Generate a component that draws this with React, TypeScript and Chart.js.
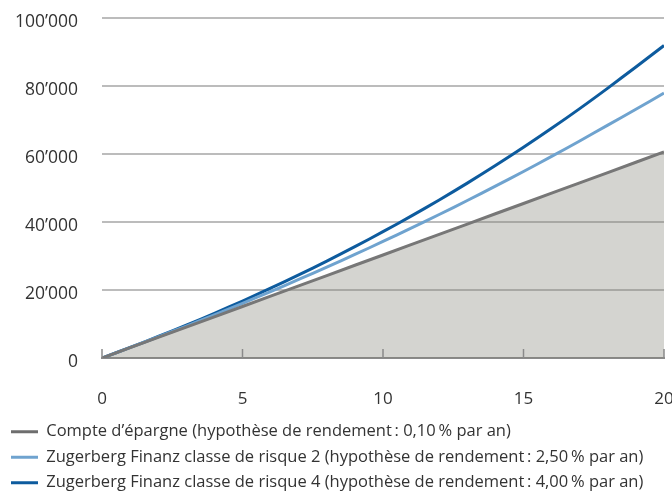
import React, { useEffect, useRef } from "react";
import { Chart, registerables } from "chart.js";

Chart.register(...registerables);

const years = [0, 1, 2, 3, 4, 5, 6, 7, 8, 9, 10, 11, 12, 13, 14, 15, 16, 17, 18, 19, 20];
const savings = [0, 3030, 6060, 9090, 12120, 15150, 18180, 21210, 24240, 27270, 30300, 33330, 36360, 39390, 42420, 45450, 48480, 51510, 54540, 57570, 60600];
const class2 = [0, 3070, 6200, 9400, 12700, 16080, 19540, 23090, 26720, 30450, 34270, 38190, 42200, 46320, 50540, 54860, 59300, 63840, 68500, 73150, 77900];
const class4 = [0, 3100, 6320, 9660, 13140, 16760, 20520, 24430, 28500, 32740, 37150, 41730, 46490, 51440, 56600, 61970, 67550, 73350, 79380, 85600, 91900];
const xTicks = [0, 5, 10, 15, 20];
const seriesLabels = [
  "Compte d\u2019épargne (hypothèse de rendement\u2009: 0,10\u2009% par an)",
  "Zugerberg Finanz classe de risque 2 (hypothèse de rendement\u2009: 2,50\u2009% par an)",
  "Zugerberg Finanz classe de risque 4 (hypothèse de rendement\u2009: 4,00\u2009% par an)",
];

const FONT = "'Open Sans', sans-serif";

const fmt = (v: number) => {
  if (v === 0) return "0";
  const s = String(Math.round(v));
  return s.replace(/\B(?=(\d{3})+(?!\d))/g, "\u2019");
};

const tickPlugin = {
  id: "xTickMarks",
  afterDatasetsDraw(chart: any) {
    const { ctx, scales } = chart;
    const x = scales.x;
    const y0 = chart.chartArea.bottom;
    ctx.save();
    ctx.strokeStyle = "#8a8a8a";
    ctx.lineWidth = 1.5;
    xTicks.forEach((t) => {
      const px = x.getPixelForValue(t);
      ctx.beginPath();
      ctx.moveTo(px, y0);
      ctx.lineTo(px, y0 - 9);
      ctx.stroke();
    });
    ctx.restore();
  },
};

export default function App() {
  const ref = useRef<HTMLCanvasElement | null>(null);
  useEffect(() => {
    if (!ref.current) return;
    const lineColors = ["#6e6e6e", "#6fa3cf", "#0d5b9e"];
    const chart = new Chart(ref.current, {
      type: "line",
      data: {
        labels: years,
        datasets: [
          {
            label: seriesLabels[0],
            data: savings.map((v, i) => ({ x: years[i], y: v })),
            borderColor: "#777777",
            backgroundColor: "rgba(128,128,116,0.34)",
            fill: "origin",
            borderWidth: 3,
            pointRadius: 0,
            order: 0,
          },
          {
            label: seriesLabels[1],
            data: class2.map((v, i) => ({ x: years[i], y: v })),
            borderColor: lineColors[1],
            backgroundColor: lineColors[1],
            fill: false,
            borderWidth: 3,
            pointRadius: 0,
            tension: 0.3,
            order: 1,
          },
          {
            label: seriesLabels[2],
            data: class4.map((v, i) => ({ x: years[i], y: v })),
            borderColor: lineColors[2],
            backgroundColor: lineColors[2],
            fill: false,
            borderWidth: 3,
            pointRadius: 0,
            tension: 0.3,
            order: 2,
          },
        ],
      },
      options: {
        animation: false,
        responsive: false,
        devicePixelRatio: 1,
        layout: { padding: { left: 2, right: 8, top: 18, bottom: -8 } },
        plugins: {
          tooltip: { enabled: false },
          legend: {
            position: "bottom",
            align: "start",
            labels: {
              font: { family: FONT, size: 16.5 },
              color: "#333333",
              boxWidth: 27,
              boxHeight: 3,
              padding: 9,
              generateLabels: (ch: any) =>
                ch.data.datasets.map((d: any, i: number) => ({
                  text: d.label,
                  fillStyle: lineColors[i],
                  strokeStyle: lineColors[i],
                  lineWidth: 0,
                  hidden: false,
                  datasetIndex: i,
                  fontColor: "#333333",
                })),
            },
          },
        },
        scales: {
          x: {
            type: "linear",
            min: 0,
            max: 20,
            grid: { display: false, drawTicks: false },
            border: { display: true, color: "#8a8a8a", width: 2 },
            afterFit: (s: any) => {
              s.paddingLeft = 0;
              s.paddingRight = 0;
              s.height = 56.5;
            },
            ticks: {
              stepSize: 5,
              padding: 31,
              font: { family: FONT, size: 17 },
              color: "#333333",
              maxRotation: 0,
            },
          },
          y: {
            min: 0,
            max: 100000,
            grid: {
              drawTicks: false,
              color: (c: any) => (c.tick && c.tick.value === 0 ? "rgba(0,0,0,0)" : "#bcbcbc"),
              lineWidth: 2,
            },
            border: { display: false },
            afterFit: (s: any) => {
              s.width = 100;
              s.paddingTop = 0;
              s.paddingBottom = 0;
            },
            ticks: {
              stepSize: 20000,
              padding: 24,
              labelOffset: 4,
              font: { family: FONT, size: 17.5 },
              color: "#333333",
              callback: (v: any) => fmt(Number(v)),
            },
          },
        },
      },
      plugins: [tickPlugin],
    } as any);
    return () => chart.destroy();
  }, []);
  return (
    <div style={{ position: "fixed", left: 0, top: 0, width: 672, height: 493, background: "#fff" }}>
      <canvas ref={ref} width={672} height={493} style={{ width: 672, height: 493, display: "block" }} />
    </div>
  );
}
